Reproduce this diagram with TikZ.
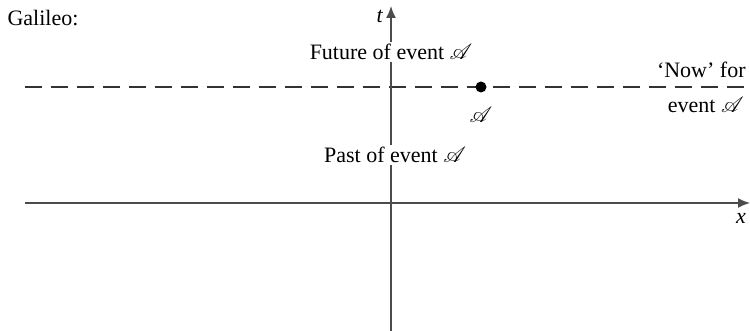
\documentclass[tikz,border=0pt]{standalone}
\usepackage{mathrsfs}
\usepackage{fontspec}
\setmainfont{Liberation Serif}
\usetikzlibrary{arrows.meta, positioning}

\tikzset{
  axis/.style={draw=black!70, line width=0.8pt, -{Latex[length=6pt,width=5pt]}},
  nowline/.style={draw=black!80, line width=0.8pt, dash pattern=on 8.5pt off 4.5pt},
  lbl/.style={inner sep=1pt, font=\fontsize{11}{12}\selectfont},
  cutlbl/.style={lbl, fill=white}
}

\begin{document}
\begin{tikzpicture}[x=0.5pt, y=-0.5pt]
\useasboundingbox (0,0) rectangle (750,331);
% axes
\coordinate (O) at (391,203);
\coordinate (tbot) at (391,331);
\coordinate (ttop) at (391,6);
\coordinate (xl) at (25,203);
\coordinate (xr) at (750,203);
\coordinate (nl) at (25,87);
\coordinate (nr) at (750,87);
\draw[nowline] (nl) -- (nr); %now
\draw[axis] (tbot) -- (ttop);
\draw[axis] (xl) -- (xr);
\node[lbl] (tlab) at (380,16) {\textit{t}};
\node[lbl] (xlab) at (741,218) {\textit{x}};
% event A
\node[circle, fill=black, inner sep=0pt, minimum size=5.5pt] (A) at (481,87) {};
\node[lbl, below=6pt of A] (Alab) {$\mathscr{A}$};
% labels
\node[lbl] (gal) at (43,18) {Galileo:};
\node[cutlbl] (future) at (391,52) {Future of event $\mathscr{A}$};
\node[cutlbl] (past) at (395,155) {Past of event $\mathscr{A}$};
\node[lbl, anchor=east] (now) at (748,70) {‘Now’ for};
\node[lbl, anchor=east] (nowev) at (746,105) {event $\mathscr{A}$};
\end{tikzpicture}
\end{document}
